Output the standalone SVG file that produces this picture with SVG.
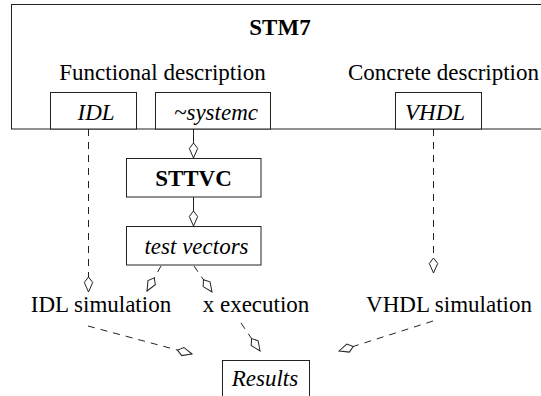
<svg xmlns="http://www.w3.org/2000/svg" width="541" height="396" viewBox="0 0 541 396">
<style>
.box{fill:#fff;stroke:#222;stroke-width:1}
.t{font-size:23px;fill:#000;text-anchor:middle}
.i{font-style:italic}
.b{font-weight:bold}
.c{fill:none;stroke:#222;stroke-width:1}
.d{stroke-dasharray:7,6}
</style>
<defs>
<marker id="kite" markerUnits="userSpaceOnUse" markerWidth="18" markerHeight="12" viewBox="-16 -6 18 12" refX="0" refY="0" orient="auto">
<path d="M0,0 L-9.5,-4.2 L-15,0 L-9.5,4.2 Z" fill="#fff" stroke="#222" stroke-width="1"/>
</marker>
</defs>
<g font-family="Liberation Serif, serif">
<g id="stm7">
<rect class="box" x="11.5" y="4.5" width="540" height="124.5"/>
<text class="t b" x="280" y="35" font-size="22.5">STM7</text>
<text class="t" x="162.5" y="80">Functional description</text>
<text class="t" x="443.5" y="80">Concrete description</text>
</g>
<g id="idl">
<rect class="box" x="50.5" y="92.5" width="86" height="36.5"/>
<text class="t i" x="96" y="120">IDL</text>
</g>
<g id="systemc">
<rect class="box" x="155.5" y="92.5" width="115" height="36.5"/>
<text class="t i" x="216" y="120">~systemc</text>
</g>
<g id="vhdl">
<rect class="box" x="395.5" y="92.5" width="86" height="36.5"/>
<text class="t i" x="435" y="120">VHDL</text>
</g>
<g id="sttvc">
<rect class="box" x="126.5" y="158.5" width="134.5" height="38.5"/>
<text class="t b" x="193.5" y="186">STTVC</text>
</g>
<g id="testvectors">
<rect class="box" x="126.5" y="226.5" width="134.5" height="38.5"/>
<text class="t i" x="196.5" y="254" font-size="22.5">test vectors</text>
</g>
<g id="idlsim"><text class="t" x="101" y="312">IDL simulation</text></g>
<g id="xexec"><text class="t" x="256" y="312">x execution</text></g>
<g id="vhdlsim"><text class="t" x="449" y="312">VHDL simulation</text></g>
<g id="results">
<rect class="box" x="222.5" y="360.5" width="87" height="40"/>
<text class="t i" x="265" y="386">Results</text>
</g>
</g>
<g id="connectors">
<line class="c d" x1="88.5" y1="129" x2="88.5" y2="292" marker-end="url(#kite)"/>
<line class="c" x1="193.5" y1="129" x2="193.5" y2="158" marker-end="url(#kite)"/>
<line class="c" x1="193.5" y1="197" x2="193.5" y2="226" marker-end="url(#kite)"/>
<line class="c d" x1="433.5" y1="129" x2="433.5" y2="273" marker-end="url(#kite)"/>
<line class="c d" x1="161" y1="266" x2="147" y2="291" marker-end="url(#kite)"/>
<line class="c d" x1="194" y1="266" x2="212" y2="292" marker-end="url(#kite)"/>
<line class="c d" x1="88" y1="326" x2="192" y2="354" marker-end="url(#kite)"/>
<line class="c d" x1="241" y1="323" x2="260" y2="351" marker-end="url(#kite)"/>
<line class="c d" x1="433" y1="321" x2="339" y2="351" marker-end="url(#kite)"/>
</g>
</svg>
